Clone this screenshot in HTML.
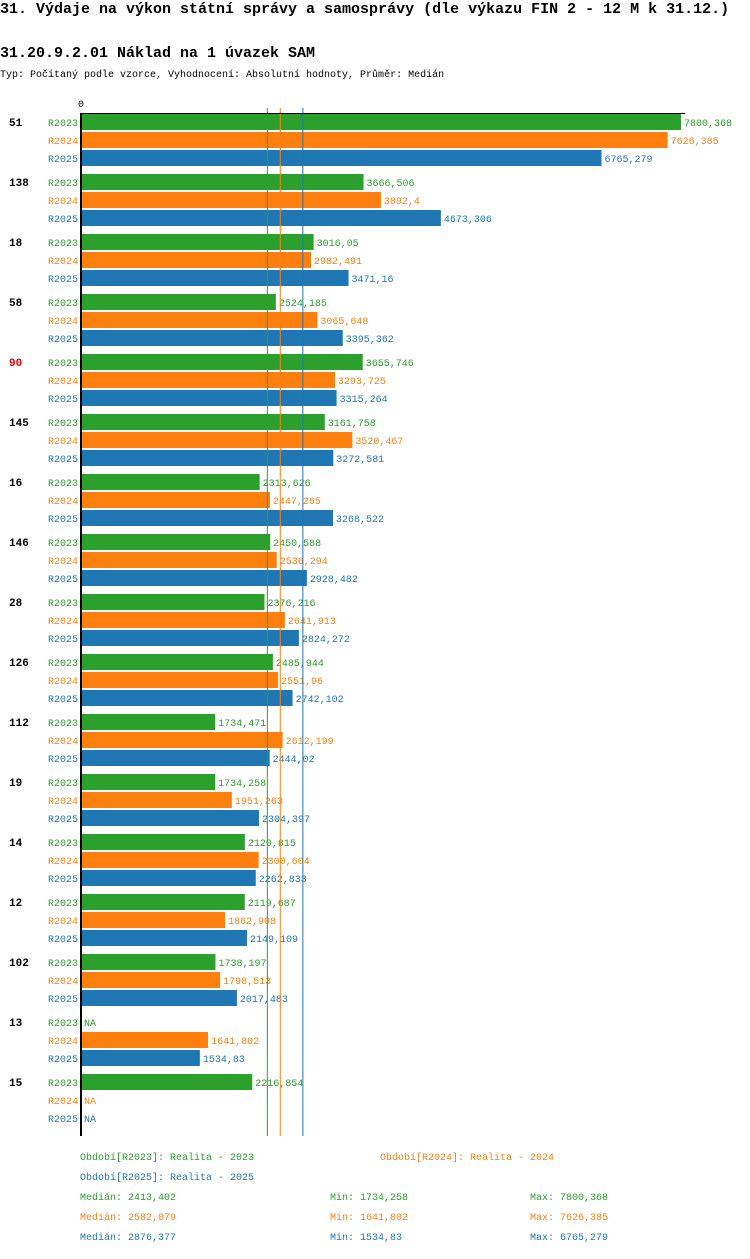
<!DOCTYPE html>
<html><head><meta charset="utf-8"><style>
body{margin:0;width:750px;height:1254px;background:#fff;font-family:"Liberation Mono","DejaVu Sans Mono",monospace;overflow:hidden}
svg text{font-family:"Liberation Mono","DejaVu Sans Mono",monospace}
</style></head><body>
<svg id="c" width="750" height="1254" xmlns="http://www.w3.org/2000/svg">
<text x="0" y="13" font-size="15" font-weight="bold">31. Výdaje na výkon státní správy a samosprávy (dle výkazu FIN 2 - 12 M k 31.12.)</text>
<text x="0" y="57" font-size="15" font-weight="bold">31.20.9.2.01 Náklad na 1 úvazek SAM</text>
<text x="0" y="77" font-size="10">Typ: Počítaný podle vzorce, Vyhodnocení: Absolutní hodnoty, Průměr: Medián</text>
<text x="78" y="107" font-size="10">0</text>
</svg>
<script>
const categories=["51","138","18","58","90","145","16","146","28","126","112","19","14","12","102","13","15"];
const s2023=[7800.368,3666.506,3016.05,2524.185,3655.746,3161.758,2313.626,2450.588,2376.216,2485.944,1734.471,1734.258,2120.815,2119.687,1738.197,null,2216.854];
const s2024=[7626.385,3892.4,2982.491,3065.648,3293.725,3520.467,2447.265,2536.294,2641.913,2551.96,2612.199,1951.263,2300.604,1862.908,1798.513,1641.802,null];
const s2025=[6765.279,4673.306,3471.16,3395.362,3315.264,3272.581,3268.522,2928.482,2824.272,2742.102,2444.02,2304.397,2262.833,2149.109,2017.483,1534.83,null];
const seriesNames=["R2023","R2024","R2025"];
const medians=[2413.402,2582.079,2876.377];
const mins=["1734,258","1641,802","1534,83"];
const maxs=["7800,368","7626,385","6765,279"];
const medianLabels=["2413,402","2582,079","2876,377"];
const highlight="90";
const colors=["#2ca02c","#ff7f0e","#1f77b4"];
const svgEl=document.getElementById('c');
const NS="http://www.w3.org/2000/svg";
const x0=82, xScale=599/7800.368;
const X=v=>x0+v*xScale;
const groupY=i=>114+i*60;
function mk(tag,attrs,txt){const e=document.createElementNS(NS,tag);for(const k in attrs)e.setAttribute(k,attrs[k]);if(txt!=null)e.textContent=txt;svgEl.appendChild(e);return e;}
const fmt=v=>String(v).replace('.',',');
const allSeries=[s2023,s2024,s2025];
categories.forEach((c,i)=>{
  const gy=groupY(i);
  let t=mk('text',{x:9,y:gy+12,'font-size':11,'font-weight':'bold',fill:c===highlight?'#e00':'#000'},c);
  
  
  allSeries.forEach((s,k)=>{
    const y=gy+k*18;
    let l=mk('text',{x:78,y:y+12,'font-size':10,fill:colors[k],'text-anchor':'end'},seriesNames[k]);
    
    
    const v=s[i];
    if(v==null){
      let n=mk('text',{x:84,y:y+12,'font-size':10,fill:colors[k]},'NA');
      
      
    }else{
      let r=mk('rect',{x:x0,y:y,width:X(v)-x0,height:16,fill:colors[k]});
      
      
      let vt=mk('text',{x:X(v)+3,y:y+12,'font-size':10,fill:colors[k]},fmt(v));
      
      
    }
  });
});
const bottomY=groupY(categories.length)+2;
medians.forEach((m,k)=>{
  let ln=mk('line',{x1:X(m),x2:X(m),y1:108,y2:bottomY,stroke:colors[k],'stroke-width':1});
  
  
});
let axY=mk('rect',{x:80,y:113,width:2,height:bottomY-113,fill:'#000'});


let axX=mk('rect',{x:80,y:113,width:605,height:1,fill:'#000'});


const leg=[["Období[R2023]: Realita - 2023",80,1160,0],["Období[R2024]: Realita - 2024",380,1160,1],["Období[R2025]: Realita - 2025",80,1180,2]];
leg.forEach(a=>{let t=mk('text',{x:a[1],y:a[2],'font-size':10,fill:colors[a[3]]},a[0]);
  
  });
for(let k=0;k<3;k++){
  const y=1200+k*20;
  let a=mk('text',{x:80,y:y,'font-size':10,fill:colors[k]},'Medián: '+medianLabels[k]);
  
  
  let b=mk('text',{x:330,y:y,'font-size':10,fill:colors[k]},'Min: '+mins[k]);
  
  
  let d=mk('text',{x:530,y:y,'font-size':10,fill:colors[k]},'Max: '+maxs[k]);
  
  
}
</script>
</body></html>
